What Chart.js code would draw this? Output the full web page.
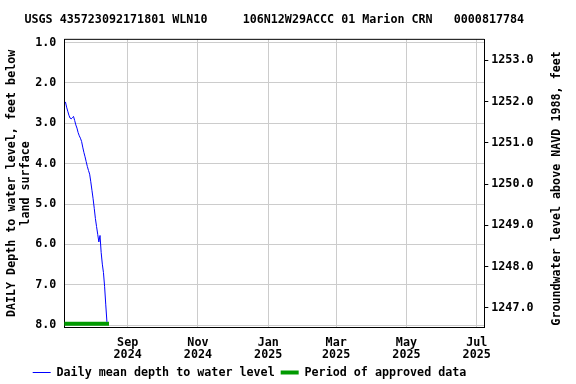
<!DOCTYPE html>
<html>
<head>
<meta charset="utf-8">
<script src="https://cdn.jsdelivr.net/npm/chart.js@4.4.1/dist/chart.umd.min.js"></script>
<style>
  html, body { margin: 0; padding: 0; background: #ffffff; }
  #wrap { width: 576px; height: 384px; }
</style>
</head>
<body>
<div id="wrap"><canvas id="c" width="576" height="384"></canvas></div>
<script>
// ---- data (x = days since 2024-07-01) ----
const titleText = "USGS 435723092171801 WLN10     106N12W29ACCC 01 Marion CRN   0000817784";
const monthTickDays = [62, 123, 184, 243, 304, 365];
const monthTickLabels = [["Sep", "2024"], ["Nov", "2024"], ["Jan", "2025"], ["Mar", "2025"], ["May", "2025"], ["Jul", "2025"]];
const depthTicks = [1, 2, 3, 4, 5, 6, 7, 8];
const elevTicks = [1247, 1248, 1249, 1250, 1251, 1252, 1253];
const days = [8, 9, 10, 11, 12, 13, 14, 15, 16, 17, 18, 19, 20, 21, 22, 23, 24, 25, 26, 27, 28, 29, 30, 31, 32, 33, 34, 35, 36, 37, 38, 39, 40, 41, 42, 43, 44];
const depths = [2.47, 2.60, 2.70, 2.80, 2.87, 2.89, 2.86, 2.83, 2.93, 3.04, 3.12, 3.23, 3.31, 3.37, 3.45, 3.59, 3.72, 3.83, 3.95, 4.07, 4.17, 4.26, 4.45, 4.66, 4.87, 5.11, 5.36, 5.56, 5.75, 5.94, 5.78, 6.20, 6.49, 6.70, 7.05, 7.50, 7.92];
const approvedDays = [5.6, 45.8];
const approvedDepths = [7.97, 7.97];

const FONT = "'DejaVu Sans Mono', 'Liberation Mono', monospace";
const fs = 11.7;

const dailyPoints = days.map((d, i) => ({ x: d, y: depths[i] }));
const approvedPoints = approvedDays.map((d, i) => ({ x: d, y: approvedDepths[i] }));

const framePlugin = {
  id: 'frame',
  afterLayout(chart) {
    const tb = chart.titleBlock;
    if (tb) { tb.left = 0; tb.right = 548.6; }
  },
  afterDraw(chart) {
    const { ctx, chartArea } = chart;
    ctx.save();
    // top border of plot frame
    ctx.strokeStyle = '#000';
    ctx.lineWidth = 1;
    ctx.beginPath();
    ctx.moveTo(chartArea.left, chartArea.top);
    ctx.lineTo(chartArea.right, chartArea.top);
    ctx.stroke();
    ctx.font = 'bold ' + fs + 'px ' + FONT;
    ctx.fillStyle = '#000';
    // legend (from the datasets)
    ctx.textAlign = 'left';
    ctx.textBaseline = 'middle';
    let x = 32.7;
    const y = 372.5;
    chart.data.datasets.forEach(ds => {
      ctx.strokeStyle = ds.borderColor;
      ctx.lineWidth = ds.borderWidth;
      ctx.beginPath();
      ctx.moveTo(x, y);
      ctx.lineTo(x + 18, y);
      ctx.stroke();
      x += 18 + fs / 2;
      ctx.fillStyle = '#000';
      ctx.fillText(ds.label, x, y);
      x += ctx.measureText(ds.label).width + 6;
    });
    // right axis title, reading bottom to top
    ctx.translate(557, (chartArea.top + chartArea.bottom) / 2 + 5);
    ctx.rotate(-Math.PI / 2);
    ctx.textAlign = 'center';
    ctx.fillText('Groundwater level above NAVD 1988, feet', 0, 0);
    ctx.restore();
  }
};

new Chart(document.getElementById('c'), {
  type: 'line',
  data: {
    datasets: [
      {
        label: 'Daily mean depth to water level',
        data: dailyPoints,
        borderColor: '#0000ff',
        backgroundColor: '#0000ff',
        borderWidth: 1,
        pointRadius: 0,
        tension: 0,
        yAxisID: 'y'
      },
      {
        label: 'Period of approved data',
        data: approvedPoints,
        borderColor: '#009a00',
        backgroundColor: '#009a00',
        borderWidth: 4,
        pointRadius: 0,
        tension: 0,
        borderCapStyle: 'butt',
        yAxisID: 'y'
      }
    ]
  },
  options: {
    responsive: false,
    animation: false,
    devicePixelRatio: 1,
    layout: { padding: 0 },
    plugins: {
      tooltip: { enabled: false },
      legend: { display: false },
      title: {
        display: true,
        text: titleText,
        color: '#000',
        font: { family: FONT, size: fs, weight: 'bold', lineHeight: 1.2 },
        padding: { top: 13, bottom: 12.3 }
      }
    },
    scales: {
      x: {
        type: 'linear',
        position: 'bottom',
        min: 7.0,
        max: 371.6,
        afterBuildTicks: s => { s.ticks = monthTickDays.map(v => ({ value: v })); },
        afterFit: s => { s.height = 384 - 327.5; },
        ticks: {
          autoSkip: false,
          maxRotation: 0,
          padding: 9,
          color: '#000',
          font: { family: FONT, size: fs, weight: 'bold', lineHeight: 1.06 },
          callback: (v, i) => monthTickLabels[i]
        },
        grid: { color: '#cccccc', drawTicks: false },
        border: { color: '#000', width: 1 }
      },
      y: {
        type: 'linear',
        position: 'left',
        reverse: true,
        min: 0.92,
        max: 8.06,
        afterBuildTicks: s => { s.ticks = depthTicks.map(v => ({ value: v })); },
        afterFit: s => { s.width = 64.3; },
        ticks: {
          padding: 8,
          color: '#000',
          font: { family: FONT, size: fs, weight: 'bold' },
          callback: v => Number(v).toFixed(1)
        },
        grid: { color: '#cccccc', drawTicks: false },
        border: { color: '#000', width: 1 },
        title: {
          display: true,
          text: ['DAILY Depth to water level, feet below', 'land surface'],
          color: '#000',
          font: { family: FONT, size: fs, weight: 'bold', lineHeight: 1.2 },
          padding: { top: 4.7, bottom: 0 }
        }
      },
      y2: {
        type: 'linear',
        position: 'right',
        min: 1246.52,
        max: 1253.51,
        afterBuildTicks: s => { s.ticks = elevTicks.map(v => ({ value: v })); },
        afterFit: s => { s.width = 576 - 484.3; },
        ticks: {
          padding: 3,
          color: '#000',
          font: { family: FONT, size: fs, weight: 'bold' },
          callback: v => Number(v).toFixed(1)
        },
        grid: { drawOnChartArea: false, drawTicks: true, tickLength: 4, color: '#000' },
        border: { color: '#000', width: 1 }
      }
    }
  },
  plugins: [framePlugin]
});
</script>
</body>
</html>
